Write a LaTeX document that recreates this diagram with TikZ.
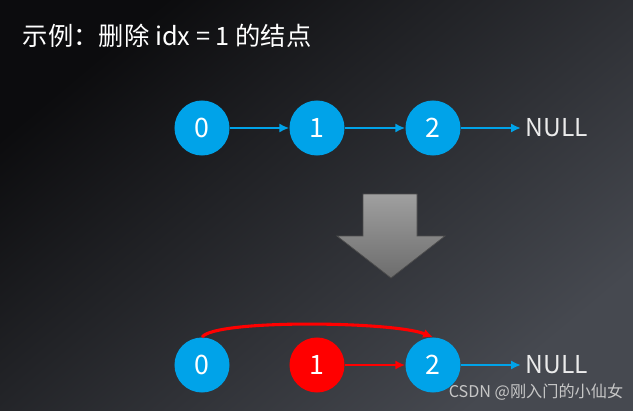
\documentclass[tikz,border=0pt]{standalone}
\usepackage{fontspec}
\setmainfont{Noto Sans CJK SC}
\usepackage{tikz}
\usetikzlibrary{arrows.meta, calc}

\definecolor{nodeblue}{RGB}{0,163,233}
\definecolor{delred}{RGB}{255,0,0}
\definecolor{bgdark}{RGB}{12,12,14}
\definecolor{bglight}{RGB}{70,73,80}

\begin{document}
\begin{tikzpicture}[x=0.025cm, y=0.025cm,
        listnode/.style={circle, fill=nodeblue, minimum size=1.375cm, inner sep=0pt, text=white, font=\fontsize{19}{22}\selectfont},
        delnode/.style={listnode, fill=delred},
        nulltext/.style={text=white!92!black, font=\fontsize{17.5}{20}\selectfont},
        arrow/.style={-{Latex[length=7pt, width=6.5pt]}, line width=1.8pt, nodeblue},
        delarrow/.style={arrow, delred}
    ]

        % Background
        \useasboundingbox (0,0) rectangle (633,410);
        \shade[top color=bgdark, bottom color=bglight, shading angle=40] (0,0) rectangle (633,410);

        % Title
        \node[anchor=west, text=white, font=\fontsize{18}{20}\selectfont] (title) at (18,374) {示例：删除 idx = 1 的结点};

        % List before
        \node[listnode] (t0) at (202,282) {0};
        \node[listnode] (t1) at (317,282) {1};
        \node[listnode] (t2) at (433,282) {2};
        \node[nulltext] (tnull) at (557,282) {NULL};

        \draw[arrow] (t0.east) -- (t1.west);
        \draw[arrow] (t1.east) -- (t2.west);
        \draw[arrow] (t2.east) -- (tnull.west);

        % Big arrow
        \draw[top color=gray!75, bottom color=gray!85!black, draw=black!70, line width=0.5pt]
            (363,216) -- (417,216) -- (417,174) -- (445,174) -- (391,132) -- (337,174) -- (363,174) -- cycle;

        % List after
        \node[listnode] (b0) at (202,45) {0};
        \node[delnode] (b1) at (317,45) {1};
        \node[listnode] (b2) at (433,45) {2};
        \node[nulltext] (bnull) at (557,45) {NULL};

        \draw[delarrow, line width=2.2pt] (b0.north) .. controls +(12,18) and +(-40,16) .. (b2.north);
        \draw[delarrow] (b1.east) -- (b2.west);
        \draw[arrow] (b2.east) -- (bnull.west);

        % Watermark
        \node[text=white!78!black, font=\fontsize{11.5}{13}\selectfont] (mark) at (536,18) {CSDN @刚入门的小仙女};

    \end{tikzpicture}
\end{document}
